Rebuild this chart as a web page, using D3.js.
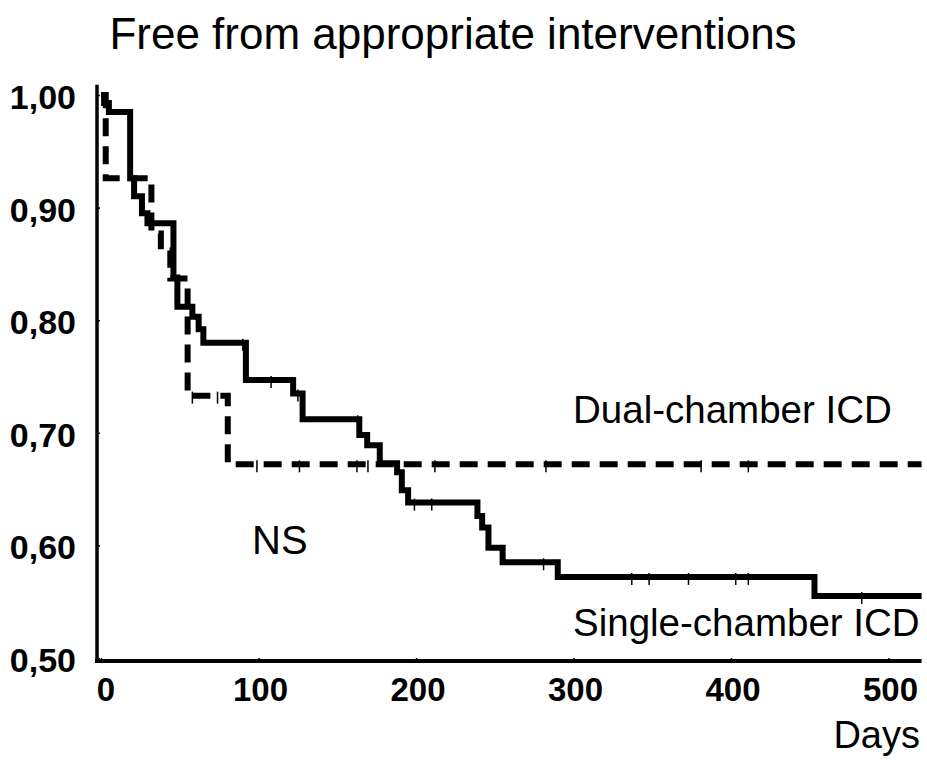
<!DOCTYPE html>
<html>
<head>
<meta charset="utf-8">
<script src="https://cdn.jsdelivr.net/npm/d3@7"></script>
<style>
  body { margin: 0; background: #fff; }
  text { font-family: "Liberation Sans", Arial, sans-serif; fill: #000; }
</style>
</head>
<body>
<div id="chart"></div>
<script>
const width = 927;
const height = 772;

// Single-chamber ICD (solid) - step times (days) and survival after each step
const singleDays = [0, 2, 5, 18.5, 21, 26, 29.5, 46, 48.5, 58, 62, 65, 92, 122, 128, 164, 169, 177, 188, 191, 195, 239, 242, 246, 255, 290, 453];
const singleSurv = [1.00, 0.993, 0.985, 0.926, 0.91, 0.895, 0.886, 0.838, 0.812, 0.803, 0.792, 0.78, 0.747, 0.735, 0.712, 0.698, 0.689, 0.673, 0.665, 0.649, 0.638, 0.626, 0.616, 0.598, 0.585, 0.572, 0.555];
const singleCensor = [90, 108, 125, 163, 199, 210, 281, 337, 348, 373, 403, 411, 483];

// Dual-chamber ICD (dashed)
const dualDays = [0, 3, 32, 38, 44, 55, 80.5];
const dualSurv = [1.00, 0.926, 0.877, 0.862, 0.837, 0.733, 0.672];
const dualCensor = [58, 74, 99, 126, 162.5, 169.5, 212, 282.5, 381, 411];

const endDay = 521;
const xTicks = [0, 100, 200, 300, 400, 500];
const yTicks = [0.5, 0.6, 0.7, 0.8, 0.9, 1.0];

const x = d3.scaleLinear().domain([0, 500]).range([101, 888.5]);
const y = d3.scaleLinear().domain([0.5, 1.0]).range([658, 95]);

const svg = d3.select("#chart").append("svg")
    .attr("width", width)
    .attr("height", height);

// title
svg.append("text")
    .attr("x", 453).attr("y", 49)
    .attr("text-anchor", "middle")
    .attr("font-size", 44)
    .text("Free from appropriate interventions");

// axes
const yAxis = svg.append("g")
    .attr("transform", `translate(97,0)`)
    .call(d3.axisRight(y).tickValues(yTicks).tickSize(3).tickFormat(""));
yAxis.select(".domain").remove();
yAxis.selectAll("line").attr("stroke-width", 1.5);

svg.append("line")
    .attr("x1", 97).attr("x2", 97)
    .attr("y1", y(1.009)).attr("y2", 663)
    .attr("stroke", "#000").attr("stroke-width", 3.5);

const xAxis = svg.append("g")
    .attr("transform", `translate(0,661)`)
    .call(d3.axisTop(x).tickValues(xTicks).tickSize(3).tickFormat(""));
xAxis.select(".domain").remove();
xAxis.selectAll("line").attr("stroke-width", 1.5);

svg.append("line")
    .attr("x1", 95).attr("x2", x(endDay))
    .attr("y1", 661).attr("y2", 661)
    .attr("stroke", "#000").attr("stroke-width", 4);

// tick labels
svg.selectAll(".ylab")
    .data(yTicks)
    .join("text")
    .attr("class", "ylab")
    .attr("x", 76)
    .attr("y", d => y(d) + 14)
    .attr("text-anchor", "end")
    .attr("font-size", 34)
    .attr("font-weight", "bold")
    .text(d => d3.format(".2f")(d).replace(".", ","));

svg.selectAll(".xlab")
    .data(xTicks)
    .join("text")
    .attr("class", "xlab")
    .attr("x", d => x(d) + (d === 0 ? 5 : 2))
    .attr("y", 701)
    .attr("text-anchor", "middle")
    .attr("font-size", 33)
    .attr("font-weight", "bold")
    .text(d => d);

// curves
function stepPoints(days, surv) {
    const pts = days.map((d, i) => [d, surv[i]]);
    pts.push([endDay, surv[surv.length - 1]]);
    return pts;
}

function survAt(days, surv, t) {
    const i = d3.bisectRight(days, t) - 1;
    return surv[Math.max(0, i)];
}

const line = d3.line()
    .x(d => x(d[0]))
    .y(d => y(d[1]))
    .curve(d3.curveStepAfter);

svg.append("path")
    .datum(stepPoints(dualDays, dualSurv))
    .attr("d", line)
    .attr("fill", "none")
    .attr("stroke", "#000")
    .attr("stroke-width", 6)
    .attr("stroke-dasharray", "18,10");

svg.append("path")
    .datum(stepPoints(singleDays, singleSurv))
    .attr("d", line)
    .attr("fill", "none")
    .attr("stroke", "#000")
    .attr("stroke-width", 6);

// censor marks
const censors = singleCensor.map(t => [t, survAt(singleDays, singleSurv, t)])
    .concat(dualCensor.map(t => [t, survAt(dualDays, dualSurv, t)]));

svg.selectAll(".cens")
    .data(censors)
    .join("line")
    .attr("class", "cens")
    .attr("x1", d => x(d[0])).attr("x2", d => x(d[0]))
    .attr("y1", d => y(d[1]) - 4).attr("y2", d => y(d[1]) + 8)
    .attr("stroke", "#000")
    .attr("stroke-width", 1.5);

// labels
svg.append("text")
    .attr("x", 573).attr("y", 423)
    .attr("font-size", 38.5)
    .text("Dual-chamber ICD");

svg.append("text")
    .attr("x", 573).attr("y", 636)
    .attr("font-size", 38.5)
    .text("Single-chamber ICD");

svg.append("text")
    .attr("x", 252).attr("y", 554)
    .attr("font-size", 40)
    .text("NS");

svg.append("text")
    .attr("x", 920).attr("y", 748)
    .attr("text-anchor", "end")
    .attr("font-size", 38)
    .text("Days");
</script>
</body>
</html>
